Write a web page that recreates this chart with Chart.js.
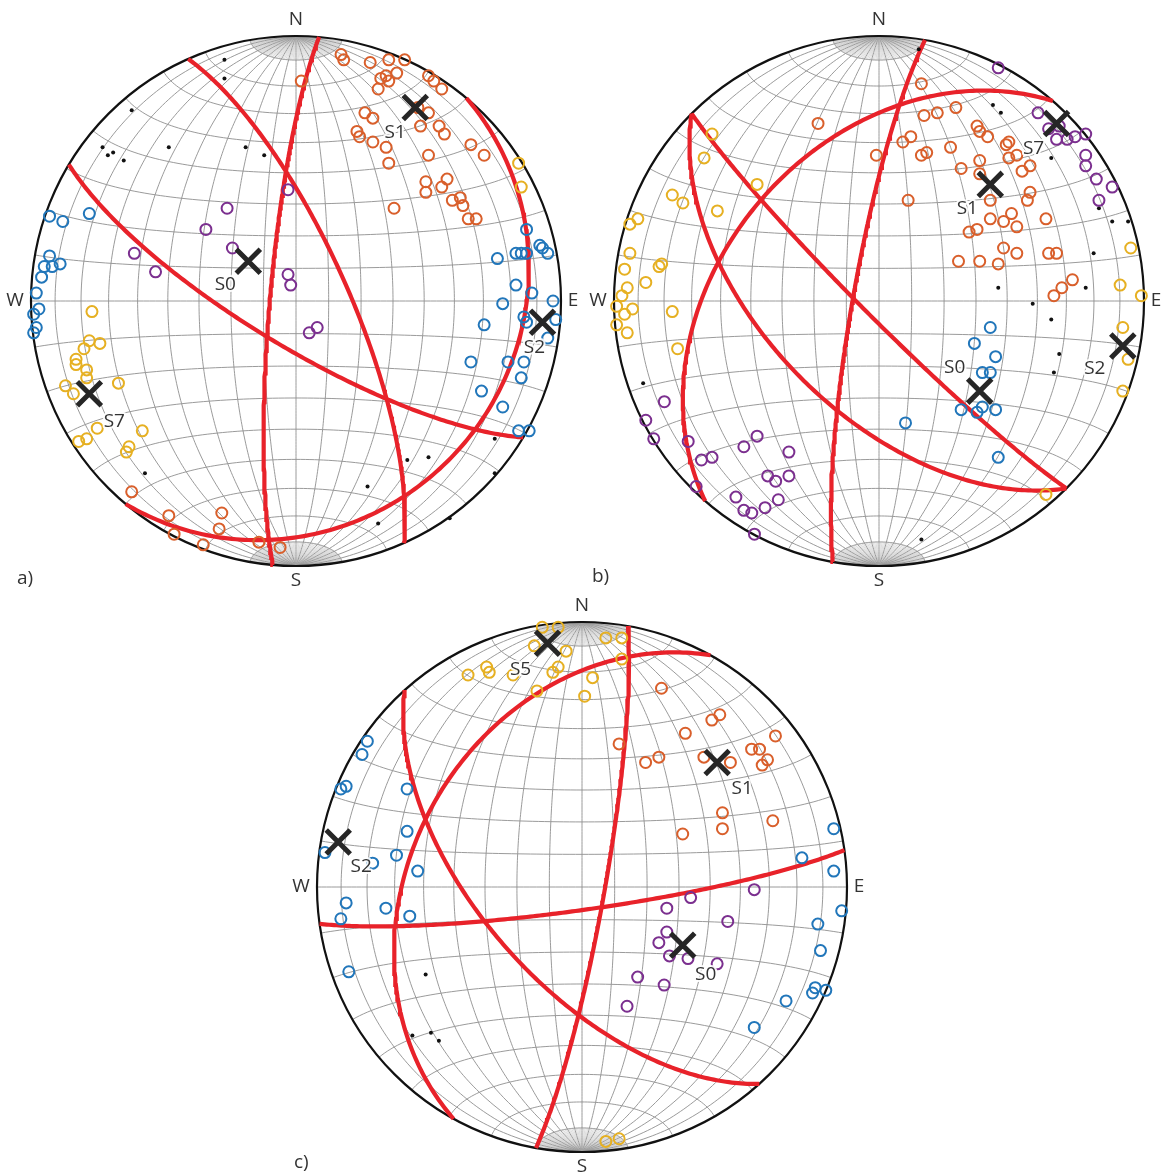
<!DOCTYPE html>
<html lang="en">
<head>
<meta charset="UTF-8">
<title>Stereonets</title>
<script src="https://cdn.jsdelivr.net/npm/chart.js"></script>
<style>
  body { margin: 0; background: #fff; width: 1163px; height: 1173px; overflow: hidden; position: relative; font-family: "Open Sans", sans-serif; }
  canvas { position: absolute; }
  .tag { position: absolute; font-size: 19px; color: #333; line-height: 26px; }
</style>
</head>
<body>
<canvas id="netA" width="600" height="600" style="left:-4px; top:1px"></canvas>
<canvas id="netB" width="600" height="600" style="left:579px; top:1px"></canvas>
<canvas id="netC" width="600" height="600" style="left:282px; top:587px"></canvas>
<div class="tag" style="left:17px; top:564px">a)</div>
<div class="tag" style="left:592px; top:562px">b)</div>
<div class="tag" style="left:294px; top:1148px">c)</div>

<script>
// planes are [dip direction, dip]; points are net coordinates (x east, y north, primitive = 1)

// --- net a ---
const planesA = [[275, 82], [66, 74], [211, 76], [130, 18]];
const orangeA = [[0.17,0.93],[0.18,0.91],[0.28,0.90],[0.35,0.91],[0.41,0.91],[0.02,0.83],[0.32,0.84],[0.34,0.85],[0.35,0.83],[0.38,0.86],[0.31,0.80],[0.50,0.85],[0.52,0.83],[0.55,0.80],[0.26,0.71],[0.29,0.69],[0.46,0.73],[0.50,0.71],[0.47,0.66],[0.54,0.66],[0.56,0.63],[0.23,0.64],[0.24,0.62],[0.29,0.60],[0.34,0.58],[0.35,0.52],[0.50,0.55],[0.66,0.59],[0.71,0.55],[0.49,0.45],[0.49,0.41],[0.55,0.43],[0.57,0.46],[0.59,0.38],[0.62,0.39],[0.63,0.36],[0.65,0.31],[0.68,0.31],[0.37,0.35],[-0.62,-0.72],[-0.48,-0.81],[-0.46,-0.88],[-0.28,-0.80],[-0.29,-0.86],[-0.35,-0.92],[-0.14,-0.91],[-0.06,-0.93]];
const blueA = [[-0.93,0.32],[-0.88,0.30],[-0.78,0.33],[-0.93,0.17],[-0.95,0.13],[-0.92,0.13],[-0.89,0.14],[-0.96,0.09],[-0.98,0.03],[-0.97,-0.03],[-0.99,-0.05],[-0.98,-0.10],[-0.99,-0.12],[0.87,0.27],[0.76,0.16],[0.83,0.18],[0.85,0.18],[0.87,0.18],[0.92,0.21],[0.93,0.20],[0.95,0.18],[0.83,0.06],[0.89,0.03],[0.97,0.00],[0.78,-0.01],[0.71,-0.09],[0.86,-0.06],[0.87,-0.08],[0.98,-0.07],[0.95,-0.14],[0.66,-0.23],[0.80,-0.23],[0.86,-0.23],[0.85,-0.29],[0.70,-0.34],[0.78,-0.40],[0.84,-0.49],[0.88,-0.49]];
const yellowA = [[0.84,0.52],[0.85,0.43],[-0.77,-0.04],[-0.78,-0.15],[-0.80,-0.18],[-0.74,-0.16],[-0.83,-0.22],[-0.83,-0.24],[-0.79,-0.26],[-0.79,-0.29],[-0.87,-0.32],[-0.84,-0.35],[-0.67,-0.31],[-0.75,-0.48],[-0.58,-0.49],[-0.82,-0.53],[-0.79,-0.52],[-0.64,-0.57],[-0.63,-0.55]];
const purpleA = [[-0.03,0.42],[-0.26,0.35],[-0.34,0.27],[-0.24,0.20],[-0.61,0.18],[-0.53,0.11],[-0.03,0.10],[-0.02,0.06],[0.05,-0.12],[0.08,-0.10]];
const dotsA = [[-0.27,0.91],[-0.27,0.84],[-0.62,0.72],[-0.73,0.58],[-0.71,0.55],[-0.69,0.56],[-0.65,0.53],[-0.48,0.58],[-0.19,0.58],[-0.12,0.55],[-0.57,-0.65],[0.75,-0.52],[0.42,-0.60],[0.50,-0.59],[0.27,-0.70],[0.75,-0.65],[0.31,-0.84],[0.58,-0.82]];
const crossA = [[-0.18,0.15],[0.45,0.73],[0.93,-0.08],[-0.78,-0.35]];
const namesA = ['S0', 'S1', 'S2', 'S7'];

// --- net b ---
const planesB = [[280, 82], [225, 85], [225, 56], [311, 41]];
const orangeB = [[-0.23,0.67],[-0.01,0.55],[0.16,0.82],[0.17,0.70],[0.22,0.71],[0.29,0.73],[0.12,0.62],[0.09,0.60],[0.16,0.55],[0.18,0.56],[0.27,0.58],[0.37,0.66],[0.38,0.64],[0.41,0.62],[0.48,0.59],[0.49,0.60],[0.49,0.54],[0.52,0.55],[0.38,0.53],[0.31,0.50],[0.54,0.49],[0.57,0.51],[0.38,0.48],[0.57,0.41],[0.56,0.38],[0.42,0.38],[0.11,0.38],[0.42,0.31],[0.34,0.26],[0.37,0.27],[0.47,0.30],[0.50,0.33],[0.52,0.28],[0.63,0.31],[0.47,0.20],[0.52,0.18],[0.30,0.15],[0.38,0.15],[0.45,0.14],[0.64,0.18],[0.67,0.18],[0.73,0.08],[0.69,0.05],[0.66,0.02]];
const yellowB = [[-0.63,0.63],[-0.66,0.54],[-0.46,0.44],[-0.78,0.40],[-0.74,0.37],[-0.61,0.34],[-0.91,0.31],[-0.94,0.29],[-0.94,0.18],[-0.96,0.12],[-0.83,0.13],[-0.82,0.14],[-0.88,0.07],[-0.95,0.05],[-0.97,0.02],[-0.99,-0.02],[-0.93,-0.03],[-0.96,-0.05],[-0.99,-0.09],[-0.95,-0.12],[-0.78,-0.04],[-0.76,-0.18],[0.95,0.20],[0.91,0.06],[0.99,0.02],[0.92,-0.10],[0.94,-0.22],[0.92,-0.34],[0.63,-0.73]];
const purpleB = [[-0.81,-0.38],[-0.88,-0.45],[-0.85,-0.52],[-0.72,-0.53],[-0.67,-0.60],[-0.63,-0.59],[-0.69,-0.70],[-0.51,-0.55],[-0.46,-0.51],[-0.34,-0.57],[-0.42,-0.66],[-0.39,-0.68],[-0.34,-0.66],[-0.54,-0.74],[-0.51,-0.79],[-0.48,-0.80],[-0.43,-0.78],[-0.38,-0.75],[-0.47,-0.88],[0.45,0.88],[0.60,0.71],[0.64,0.65],[0.68,0.66],[0.67,0.61],[0.71,0.61],[0.74,0.62],[0.78,0.63],[0.78,0.55],[0.78,0.51],[0.82,0.46],[0.88,0.43],[0.83,0.38]];
const blueB = [[0.42,-0.10],[0.36,-0.16],[0.44,-0.21],[0.39,-0.27],[0.42,-0.27],[0.31,-0.41],[0.37,-0.42],[0.39,-0.40],[0.44,-0.41],[0.10,-0.46],[0.45,-0.59]];
const dotsB = [[-0.89,-0.31],[0.15,0.95],[0.43,0.74],[0.46,0.71],[0.65,0.54],[0.83,0.35],[0.88,0.30],[0.94,0.30],[0.81,0.18],[0.78,0.05],[0.45,0.05],[0.58,-0.01],[0.65,-0.07],[0.68,-0.20],[0.66,-0.27],[0.16,-0.90]];
const crossB = [[0.38,-0.34],[0.42,0.44],[0.92,-0.17],[0.67,0.67]];
const namesB = ['S0', 'S1', 'S2', 'S7'];

// --- net c ---
const planesC = [[100, 83], [172, 83], [228, 60], [299, 36]];
const orangeC = [[0.30,0.75],[0.49,0.63],[0.52,0.65],[0.39,0.58],[0.73,0.57],[0.14,0.54],[0.29,0.49],[0.24,0.47],[0.46,0.49],[0.56,0.47],[0.64,0.52],[0.67,0.52],[0.68,0.46],[0.70,0.48],[0.53,0.28],[0.53,0.22],[0.72,0.25],[0.38,0.20]];
const yellowC = [[-0.15,0.98],[-0.09,0.98],[-0.18,0.91],[-0.06,0.89],[-0.36,0.83],[-0.35,0.81],[-0.43,0.80],[-0.26,0.80],[-0.11,0.81],[-0.09,0.83],[-0.17,0.74],[0.01,0.72],[0.09,0.94],[0.15,0.94],[0.15,0.86],[0.04,0.79],[0.09,-0.96],[0.14,-0.95]];
const purpleC = [[0.65,-0.01],[0.41,-0.04],[0.32,-0.08],[0.55,-0.13],[0.32,-0.17],[0.29,-0.21],[0.33,-0.26],[0.40,-0.27],[0.51,-0.29],[0.21,-0.34],[0.31,-0.37],[0.17,-0.45]];
const blueC = [[-0.81,0.55],[-0.83,0.50],[-0.89,0.38],[-0.91,0.37],[-0.66,0.37],[-0.66,0.21],[-0.97,0.13],[-0.70,0.12],[-0.62,0.06],[-0.79,0.09],[-0.89,-0.06],[-0.91,-0.12],[-0.74,-0.08],[-0.65,-0.11],[-0.88,-0.32],[0.95,0.22],[0.83,0.11],[0.95,0.06],[0.98,-0.09],[0.89,-0.14],[0.90,-0.24],[0.87,-0.40],[0.92,-0.39],[0.88,-0.38],[0.77,-0.43],[0.65,-0.53]];
const dotsC = [[-0.59,-0.33],[-0.64,-0.56],[-0.57,-0.55],[-0.54,-0.58]];
const crossC = [[0.38,-0.22],[0.51,0.47],[-0.92,0.17],[-0.13,0.92]];
const namesC = ['S0', 'S1', 'S2', 'S5'];

const compass = ['N', 'E', 'S', 'W'];

// styles
const RED = '#e8222a', ORANGE = '#d95f2b', BLUE = '#2176ba', YELLOW = '#e6b022', PURPLE = '#7b2f8f';
const NET_PX = 265, SIZE = 600;
const RANGE = SIZE / 2 / NET_PX;
const labelOffA = [[-23, 23], [-20, 25], [-8, 25], [25, 28]];
const labelOffB = [[-25, -24], [-23, 24], [-28, 23], [-23, 25]];
const labelOffC = [[23, 29], [25, 26], [23, 25], [-27, 26]];
const compassDir = [[0, 1, 0, -16], [1, 0, 12, 0], [0, -1, 0, 15], [-1, 0, -16, 0]];
const RAD = Math.PI / 180;

// lower hemisphere equal-area (Schmidt) projection of a unit vector (east, north, down)
function proj(e, n, d) {
  const k = 1 / Math.sqrt(1 + d);
  return { x: e * k, y: n * k };
}

function greatCircle(dipDir, dip) {
  const a = dipDir * RAD, b = dip * RAD;
  const s = [-Math.cos(a), Math.sin(a), 0];
  const t = [Math.sin(a) * Math.cos(b), Math.cos(a) * Math.cos(b), Math.sin(b)];
  const pts = [];
  for (let i = 0; i <= 180; i++) {
    const c = Math.cos(i * RAD), sn = Math.sin(i * RAD);
    pts.push(proj(c * s[0] + sn * t[0], c * s[1] + sn * t[1], c * s[2] + sn * t[2]));
  }
  return pts;
}

const netGrid = {
  id: 'netGrid',
  beforeDatasetsDraw(chart) {
    const { ctx, scales: { x, y } } = chart;
    const line = pts => {
      ctx.beginPath();
      pts.forEach((p, i) => {
        const u = x.getPixelForValue(p.x), v = y.getPixelForValue(p.y);
        i ? ctx.lineTo(u, v) : ctx.moveTo(u, v);
      });
      ctx.stroke();
    };
    ctx.save();
    // meridians through N and S, every 10 deg, plus 2 deg ones near the poles
    for (let t = -88; t <= 88; t += 2) {
      const ct = Math.cos(t * RAD), st = Math.sin(t * RAD);
      const arc = (f0, f1) => {
        const pts = [];
        for (let f = f0; f <= f1; f += 1) {
          const c = Math.cos(f * RAD), s = Math.sin(f * RAD);
          pts.push(proj(s * st, c, s * ct));
        }
        line(pts);
      };
      if (t % 10 === 0) { ctx.strokeStyle = '#8e8e8e'; ctx.lineWidth = 0.9; arc(0, 180); }
      else { ctx.strokeStyle = '#a8a8a8'; ctx.lineWidth = 0.4; arc(0, 10); arc(170, 180); }
    }
    // small circles around the N-S axis
    ctx.strokeStyle = '#8e8e8e';
    ctx.lineWidth = 0.9;
    for (let al = 10; al < 180; al += 10) {
      const ca = Math.cos(al * RAD), sa = Math.sin(al * RAD);
      const pts = [];
      for (let bt = 0; bt <= 180; bt += 2) {
        pts.push(proj(sa * Math.cos(bt * RAD), ca, sa * Math.sin(bt * RAD)));
      }
      line(pts);
    }
    // primitive
    const r = x.getPixelForValue(1) - x.getPixelForValue(0);
    ctx.strokeStyle = '#111';
    ctx.lineWidth = 2.2;
    ctx.beginPath();
    ctx.arc(x.getPixelForValue(0), y.getPixelForValue(0), r, 0, 2 * Math.PI);
    ctx.stroke();
    ctx.restore();
  }
};

const netLabels = {
  id: 'netLabels',
  afterDatasetsDraw(chart, args, opts) {
    const { ctx, scales: { x, y } } = chart;
    ctx.save();
    ctx.font = '19px "Open Sans", sans-serif';
    ctx.textAlign = 'center';
    ctx.textBaseline = 'middle';
    ctx.fillStyle = '#333';
    compass.forEach((c, i) => {
      const d = compassDir[i];
      ctx.fillText(c, x.getPixelForValue(d[0]) + d[2], y.getPixelForValue(d[1]) + d[3]);
    });
    ctx.lineJoin = 'round';
    opts.names.forEach((nm, i) => {
      const p = opts.points[i], o = opts.offsets[i];
      const u = x.getPixelForValue(p[0]) + o[0], v = y.getPixelForValue(p[1]) + o[1];
      ctx.strokeStyle = 'rgba(255,255,255,0.9)';
      ctx.lineWidth = 4;
      ctx.strokeText(nm, u, v);
      ctx.fillText(nm, u, v);
    });
    ctx.restore();
  }
};

function makeNet(id, planes, orange, blue, yellow, purple, dots, crosses, names, offsets) {
  const xy = arr => arr.map(p => ({ x: p[0], y: p[1] }));
  const ring = (arr, color) => ({
    data: xy(arr), pointStyle: 'circle', pointRadius: 5.5, pointBorderWidth: 2,
    pointBorderColor: color, pointBackgroundColor: 'rgba(0,0,0,0)', order: 2
  });
  const datasets = planes.map(p => ({
    data: greatCircle(p[0], p[1]), showLine: true, borderColor: RED, borderWidth: 4.2,
    pointRadius: 0, tension: 0, order: 3
  }));
  datasets.push(ring(orange, ORANGE), ring(blue, BLUE), ring(yellow, YELLOW), ring(purple, PURPLE));
  datasets.push({ data: xy(dots), pointRadius: 2, pointBackgroundColor: '#111', pointBorderWidth: 0, order: 2 });
  datasets.push({
    data: xy(crosses), pointStyle: 'crossRot', pointRadius: 17, pointBorderWidth: 5,
    pointBorderColor: '#262626', order: 1
  });
  new Chart(document.getElementById(id), {
    type: 'scatter',
    data: { datasets },
    options: {
      responsive: false,
      animation: false,
      events: [],
      layout: { padding: 0, autoPadding: false },
      plugins: {
        legend: { display: false },
        tooltip: { enabled: false },
        netLabels: { names: names, points: crosses, offsets: offsets }
      },
      scales: {
        x: { type: 'linear', min: -RANGE, max: RANGE, display: false },
        y: { type: 'linear', min: -RANGE, max: RANGE, display: false }
      }
    },
    plugins: [netGrid, netLabels]
  });
}

makeNet('netA', planesA, orangeA, blueA, yellowA, purpleA, dotsA, crossA, namesA, labelOffA);
makeNet('netB', planesB, orangeB, blueB, yellowB, purpleB, dotsB, crossB, namesB, labelOffB);
makeNet('netC', planesC, orangeC, blueC, yellowC, purpleC, dotsC, crossC, namesC, labelOffC);
</script>
</body>
</html>
